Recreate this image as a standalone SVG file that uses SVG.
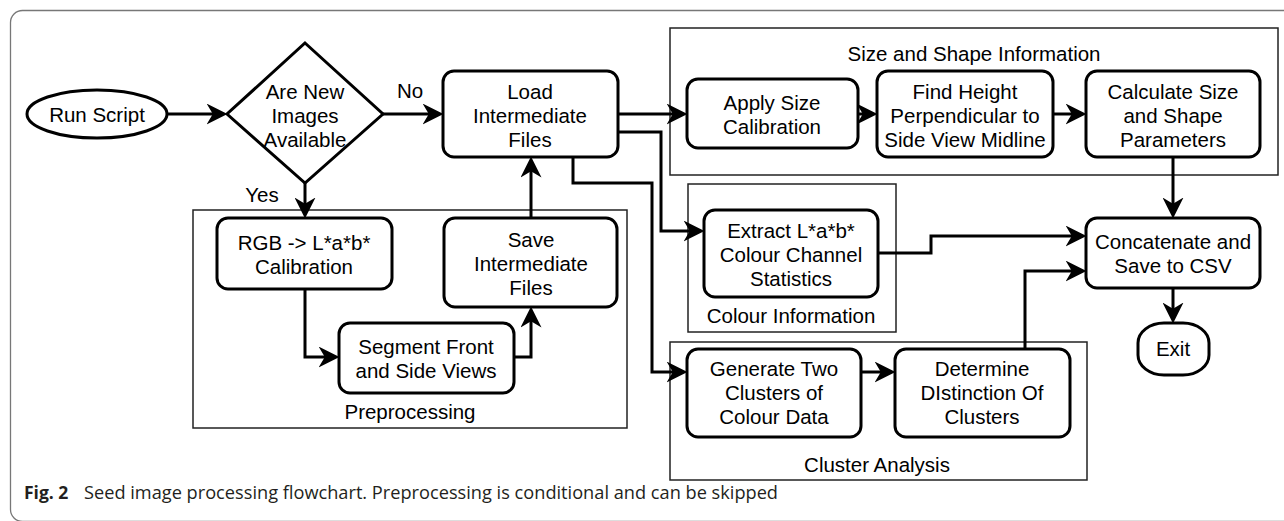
<svg xmlns="http://www.w3.org/2000/svg" width="1284" height="521" viewBox="0 0 1284 521">
  <defs>
    <style>
      .box { fill: #fff; stroke: #000; stroke-width: 3; }
      .grp { fill: none; stroke: #222; stroke-width: 1.5; }
      .t { font-family: "Liberation Sans", Arial, sans-serif; font-size: 20.5px; text-anchor: middle; fill: #000; }
      .edge { fill: none; stroke: #000; stroke-width: 3; stroke-linejoin: miter; marker-end: url(#arr); }
      .cap { font-family: "Open Sans", "Liberation Sans", sans-serif; font-size: 17.5px; fill: #231f20; }
    </style>
    <marker id="arr" markerUnits="userSpaceOnUse" viewBox="0 0 20 20" markerWidth="21" markerHeight="21" refX="10" refY="10" orient="auto">
      <path d="M0,0 L20,10 L0,20 L6,10 Z" fill="#000"/>
    </marker>
  </defs>

  <rect width="1284" height="521" fill="#fff"/>
  <!-- figure frame -->
  <rect x="10.5" y="10.5" width="1300" height="511" rx="12" fill="none" stroke="#777" stroke-width="1.3"/>

  <!-- swimlane groups -->
  <g id="grp-preprocessing">
    <rect class="grp" x="193" y="210" width="434" height="218"/>
    <text class="t" x="410" y="419">Preprocessing</text>
  </g>
  <g id="grp-size-shape">
    <rect class="grp" x="670" y="28" width="608" height="147"/>
    <text class="t" x="974" y="61">Size and Shape Information</text>
  </g>
  <g id="grp-colour">
    <rect class="grp" x="688" y="184" width="208" height="148"/>
    <text class="t" x="791" y="323">Colour Information</text>
  </g>
  <g id="grp-cluster">
    <rect class="grp" x="670" y="342" width="417" height="138"/>
    <text class="t" x="877" y="472">Cluster Analysis</text>
  </g>

  <!-- connectors -->
  <g id="connectors">
    <path class="edge" d="M167,114 H217"/>
    <path class="edge" d="M383,114 H433"/>
    <text class="t" x="410" y="98">No</text>
    <path class="edge" d="M305,183 V208"/>
    <text class="t" x="262" y="202">Yes</text>
    <path class="edge" d="M305,289 V357 H329"/>
    <path class="edge" d="M514,357 H531 V317"/>
    <path class="edge" d="M531,218 V167"/>
    <path class="edge" d="M618,114 H677"/>
    <path class="edge" d="M858,114 H867"/>
    <path class="edge" d="M1053,114 H1076"/>
    <path class="edge" d="M618,132 H661 V231 H694"/>
    <path class="edge" d="M573,157 V183 H652 V372 H677"/>
    <path class="edge" d="M861,372 H885"/>
    <path class="edge" d="M878,253 H931 V236 H1076"/>
    <path class="edge" d="M1025,349 V271 H1076"/>
    <path class="edge" d="M1173,157 V208"/>
    <path class="edge" d="M1173,288 V313"/>
  </g>

  <!-- nodes -->
  <g id="run-script">
    <ellipse class="box" cx="97" cy="114" rx="70" ry="24"/>
    <text class="t" x="97" y="122">Run Script</text>
  </g>
  <g id="new-images">
    <polygon class="box" points="305,43 383,114 305,183 227,114"/>
    <text class="t" x="305" y="99">Are New</text>
    <text class="t" x="305" y="123">Images</text>
    <text class="t" x="305" y="147">Available</text>
  </g>
  <g id="load-files">
    <rect class="box" x="443" y="71" width="175" height="86" rx="11"/>
    <text class="t" x="530" y="99">Load</text>
    <text class="t" x="530" y="123">Intermediate</text>
    <text class="t" x="530" y="147">Files</text>
  </g>
  <g id="rgb-lab">
    <rect class="box" x="217" y="218" width="175" height="71" rx="11"/>
    <text class="t" x="304" y="250">RGB -&gt; L*a*b*</text>
    <text class="t" x="304" y="274">Calibration</text>
  </g>
  <g id="save-files">
    <rect class="box" x="444" y="218" width="173" height="89" rx="11"/>
    <text class="t" x="531" y="247">Save</text>
    <text class="t" x="531" y="271">Intermediate</text>
    <text class="t" x="531" y="295">Files</text>
  </g>
  <g id="segment">
    <rect class="box" x="339" y="323" width="175" height="70" rx="11"/>
    <text class="t" x="426" y="354">Segment Front</text>
    <text class="t" x="426" y="378">and Side Views</text>
  </g>
  <g id="apply-size">
    <rect class="box" x="687" y="79" width="171" height="69" rx="11"/>
    <text class="t" x="772" y="110">Apply Size</text>
    <text class="t" x="772" y="134">Calibration</text>
  </g>
  <g id="find-height">
    <rect class="box" x="877" y="71" width="176" height="86" rx="11"/>
    <text class="t" x="965" y="99">Find Height</text>
    <text class="t" x="965" y="123">Perpendicular to</text>
    <text class="t" x="965" y="147">Side View Midline</text>
  </g>
  <g id="calc-size">
    <rect class="box" x="1086" y="71" width="174" height="86" rx="11"/>
    <text class="t" x="1173" y="99">Calculate Size</text>
    <text class="t" x="1173" y="123">and Shape</text>
    <text class="t" x="1173" y="147">Parameters</text>
  </g>
  <g id="extract-lab">
    <rect class="box" x="704" y="210" width="174" height="87" rx="11"/>
    <text class="t" x="791" y="238">Extract L*a*b*</text>
    <text class="t" x="791" y="262">Colour Channel</text>
    <text class="t" x="791" y="286">Statistics</text>
  </g>
  <g id="gen-clusters">
    <rect class="box" x="687" y="349" width="174" height="88" rx="11"/>
    <text class="t" x="774" y="376">Generate Two</text>
    <text class="t" x="774" y="400">Clusters of</text>
    <text class="t" x="774" y="424">Colour Data</text>
  </g>
  <g id="distinction">
    <rect class="box" x="895" y="349" width="175" height="88" rx="11"/>
    <text class="t" x="982" y="376">Determine</text>
    <text class="t" x="982" y="400">DIstinction Of</text>
    <text class="t" x="982" y="424">Clusters</text>
  </g>
  <g id="concat-csv">
    <rect class="box" x="1086" y="218" width="174" height="70" rx="11"/>
    <text class="t" x="1173" y="249">Concatenate and</text>
    <text class="t" x="1173" y="273">Save to CSV</text>
  </g>
  <g id="exit">
    <rect class="box" x="1138" y="323" width="71" height="52" rx="26" ry="20"/>
    <text class="t" x="1173" y="356">Exit</text>
  </g>

  <!-- caption -->
  <g id="caption">
    <text class="cap" x="24" y="499" font-weight="bold">Fig. 2</text>
    <text class="cap" x="84" y="499" textLength="694" lengthAdjust="spacingAndGlyphs">Seed image processing flowchart. Preprocessing is conditional and can be skipped</text>
  </g>
</svg>
